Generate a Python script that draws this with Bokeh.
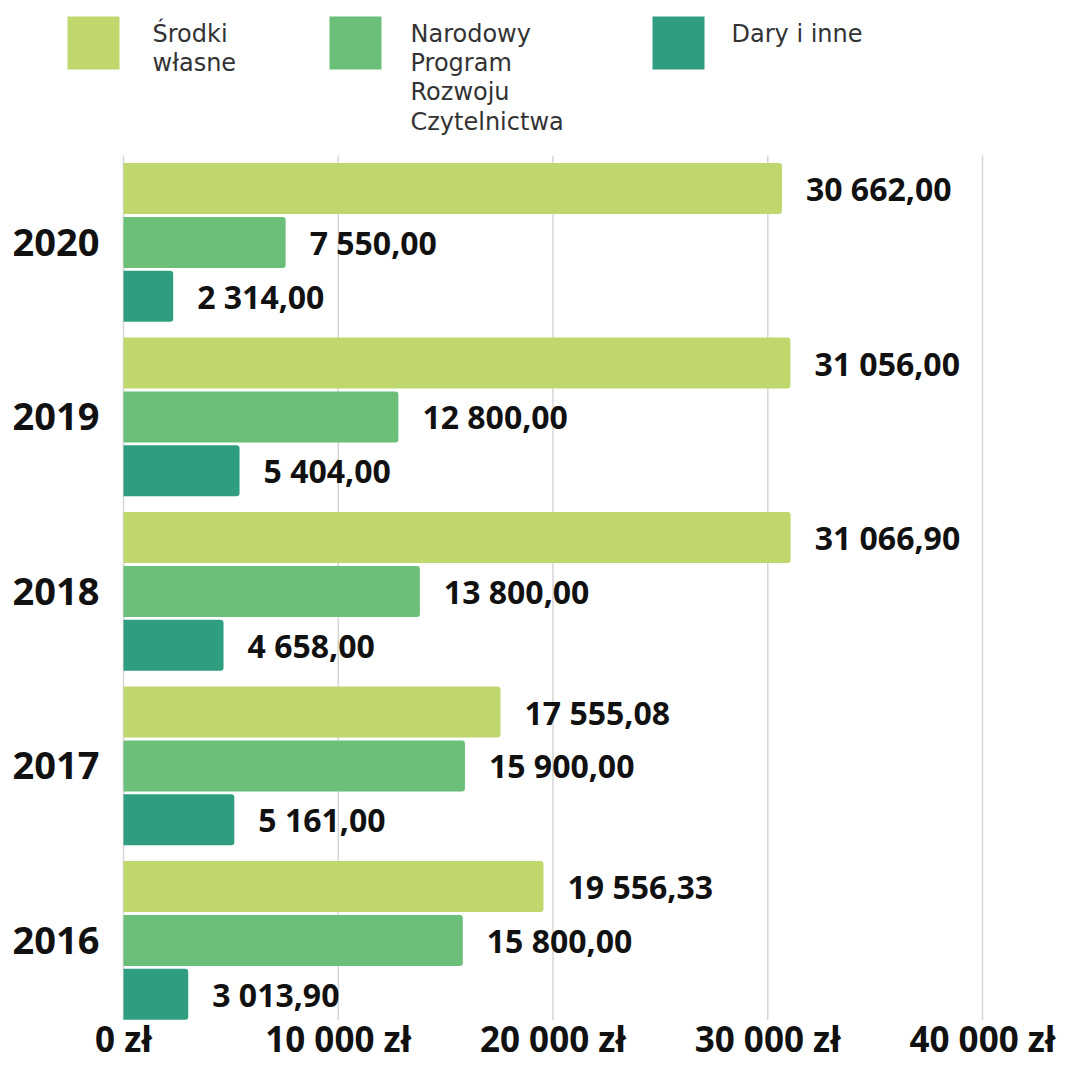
from bokeh.plotting import figure
from bokeh.models import Range1d, ColumnDataSource
from bokeh.transform import dodge
from bokeh.core.properties import value
from bokeh.embed import file_html
from bokeh.resources import INLINE

# ---- data ----
years = ["2016", "2017", "2018", "2019", "2020"]
srodki_wlasne = [19556.33, 17555.08, 31066.90, 31056.00, 30662.00]
narodowy_program = [15800.00, 15900.00, 13800.00, 12800.00, 7550.00]
dary_i_inne = [3013.90, 5161.00, 4658.00, 5404.00, 2314.00]
series_names = ["Środki\nwłasne", "Narodowy\nProgram\nRozwoju\nCzytelnictwa", "Dary i inne"]
x_ticks = [0, 10000, 20000, 30000, 40000]
x_tick_labels = ["0 zł", "10 000 zł", "20 000 zł", "30 000 zł", "40 000 zł"]

colors = ["#bfd76d", "#6bbf78", "#2f9e80"]


def fmt(v):
    return f"{v:,.2f}".replace(",", " ").replace(".", ",")


# ---- layout (pixel geometry of the canvas) ----
W, H = 1062, 1063
X0_PX = 123                 # pixel of 0 zł
PX_PER_ZL = 859 / 40000     # 40 000 zł at pixel 982
Y0_PX = 1019.5              # bottom of the bar area
PX_PER_UNIT = 174.5         # distance between year groups
Y_LOW = -0.456              # data value at bottom of the bar area


def px_x(px):
    return (px - X0_PX) / PX_PER_ZL


def px_y(py):
    return (Y0_PX - py) / PX_PER_UNIT + Y_LOW


src = ColumnDataSource(dict(
    y=list(range(len(years))),
    s1=srodki_wlasne, s2=narodowy_program, s3=dary_i_inne,
    l1=[fmt(v) for v in srodki_wlasne],
    l2=[fmt(v) for v in narodowy_program],
    l3=[fmt(v) for v in dary_i_inne],
))

p = figure(width=W, height=H, x_range=Range1d(px_x(0), px_x(W)),
           y_range=Range1d(px_y(H), px_y(0)), output_backend="svg",
           toolbar_location=None, min_border=0)
p.axis.visible = False
p.grid.visible = False
p.outline_line_color = None
p.background_fill_color = "white"

# vertical grid lines at the ticks
p.segment(x0=x_ticks, x1=x_ticks, y0=Y_LOW, y1=px_y(155),
          line_color="#d6d6d6", line_width=1.5)

# bars + value labels
step = 0.309
bh = 0.292
offs = [step, 0.0, -step]
for i, (col, lab) in enumerate([("s1", "l1"), ("s2", "l2"), ("s3", "l3")]):
    p.hbar(y=dodge("y", offs[i]), left=0, right=col, height=bh, source=src,
           fill_color=colors[i], line_color=None, border_radius=(0, 3, 3, 0))
    p.text(x=col, y=dodge("y", offs[i]), text=lab, source=src,
           x_offset=24, text_baseline="middle", text_align="left",
           text_font=value("Open Sans"), text_font_style="bold",
           text_font_size="32px", text_color="#111111")

# year labels (category axis)
p.text(x=[px_x(99)] * len(years), y=list(range(len(years))), text=years,
       text_align="right", text_baseline="middle",
       text_font=value("Open Sans"), text_font_style="bold",
       text_font_size="38px", text_color="#111111")

# value axis labels
p.text(x=x_ticks, y=[px_y(1038)] * len(x_ticks), text=x_tick_labels,
       text_align="center", text_baseline="middle",
       text_font=value("Open Sans"), text_font_style="bold",
       text_font_size="35px", text_color="#111111")

# legend
sq_left = [67, 329, 652]
txt_left = [152, 410, 731]
for c, xl, xt, name in zip(colors, sq_left, txt_left, series_names):
    p.quad(left=[px_x(xl)], right=[px_x(xl + 52)], top=[px_y(16)],
           bottom=[px_y(69)], fill_color=c, line_color=None)
    p.text(x=[px_x(xt)], y=[px_y(19)], text=[name], text_baseline="top",
           text_align="left", text_font=value("DejaVu Sans"),
           text_font_size="24px", text_color="#333333", text_line_height=1.05)

open("out.html", "w").write(file_html(p, INLINE))
